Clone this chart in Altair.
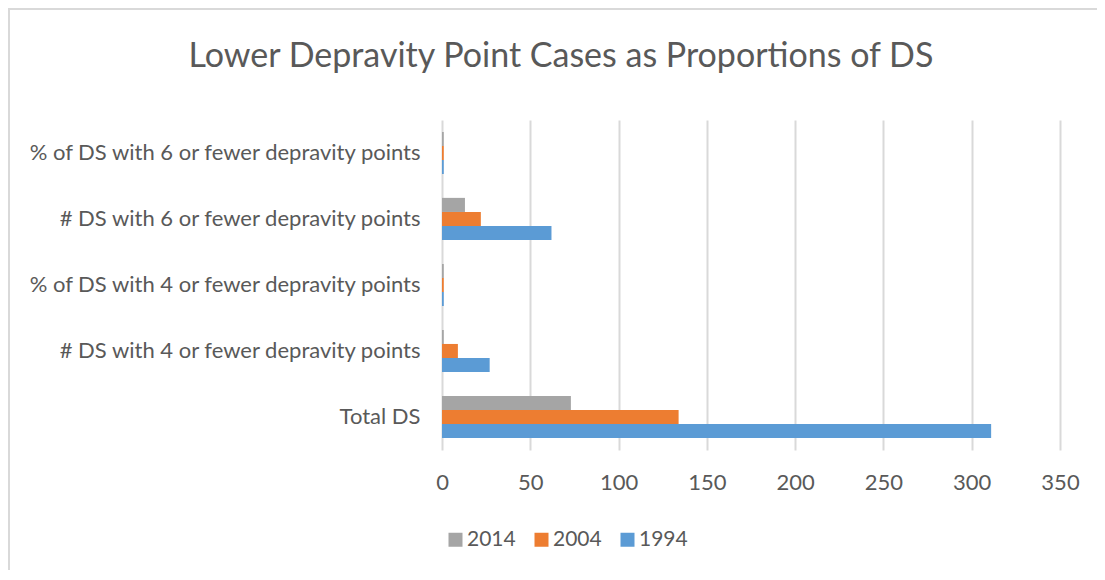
import altair as alt
import pandas as pd

categories = [
    "% of DS with 6 or fewer depravity points",
    "# DS with 6 or fewer depravity points",
    "% of DS with 4 or fewer depravity points",
    "# DS with 4 or fewer depravity points",
    "Total DS",
]
series = ["2014", "2004", "1994"]
values_2014 = [1, 13, 1, 1, 73]
values_2004 = [1, 22, 1, 9, 134]
values_1994 = [1, 62, 1, 27, 311]
colors = ["#A5A5A5", "#ED7D31", "#5B9BD5"]

rows = []
for s, vals in zip(series, [values_2014, values_2004, values_1994]):
    for c, v in zip(categories, vals):
        rows.append({"category": c, "year": s, "value": v})
df = pd.DataFrame(rows)

FONT = "Lato"
TXT = "#595959"
GRID = "#D9D9D9"

bars = alt.Chart(df).mark_bar().encode(
    y=alt.Y("category:N", sort=categories,
            scale=alt.Scale(paddingInner=0.36, paddingOuter=0.18),
            axis=alt.Axis(title=None, ticks=False, domain=False, labelPadding=22,
                          labelFontSize=22, labelColor=TXT, labelFont=FONT, labelLimit=500)),
    yOffset=alt.YOffset("year:N", sort=series, scale=alt.Scale(paddingInner=0)),
    x=alt.X("value:Q", scale=alt.Scale(domain=[0, 350], nice=False),
            axis=alt.Axis(title=None, values=[0, 50, 100, 150, 200, 250, 300, 350],
                          ticks=False, domain=False, grid=True, gridColor=GRID, gridWidth=2,
                          labelFlush=False, labelPadding=22, labelFontSize=22,
                          labelColor=TXT, labelFont=FONT)),
    color=alt.Color("year:N", sort=series,
                    scale=alt.Scale(domain=series, range=colors),
                    legend=alt.Legend(title=None, orient="none", direction="horizontal",
                                      legendX=3, legendY=409, symbolType="square",
                                      symbolSize=196, symbolStrokeWidth=0, labelFontSize=21,
                                      labelColor=TXT, labelFont=FONT, labelOffset=1,
                                      columnPadding=15)),
)

border_top = alt.Chart(df).mark_rule(color=GRID, strokeWidth=2).encode(
    x=alt.value(-434), x2=alt.value(700), y=alt.value(-111)
)
border_left = alt.Chart(df).mark_rule(color=GRID, strokeWidth=2).encode(
    x=alt.value(-433), y=alt.value(-112), y2=alt.value(460)
)

chart = alt.layer(bars, border_top, border_left).properties(
    width=618,
    height=330,
    autosize=alt.AutoSizeParams(type="none"),
    padding={"left": 434, "top": 112, "right": 37, "bottom": 120},
    title=alt.Title("Lower Depravity Point Cases as Proportions of DS",
                    fontSize=34, font=FONT, fontWeight="normal", color=TXT,
                    anchor="middle", frame="group", dx=-190, dy=114, offset=47),
).configure_view(stroke=None)

chart.save("out.html", embed_options={"renderer": "svg", "actions": False})
